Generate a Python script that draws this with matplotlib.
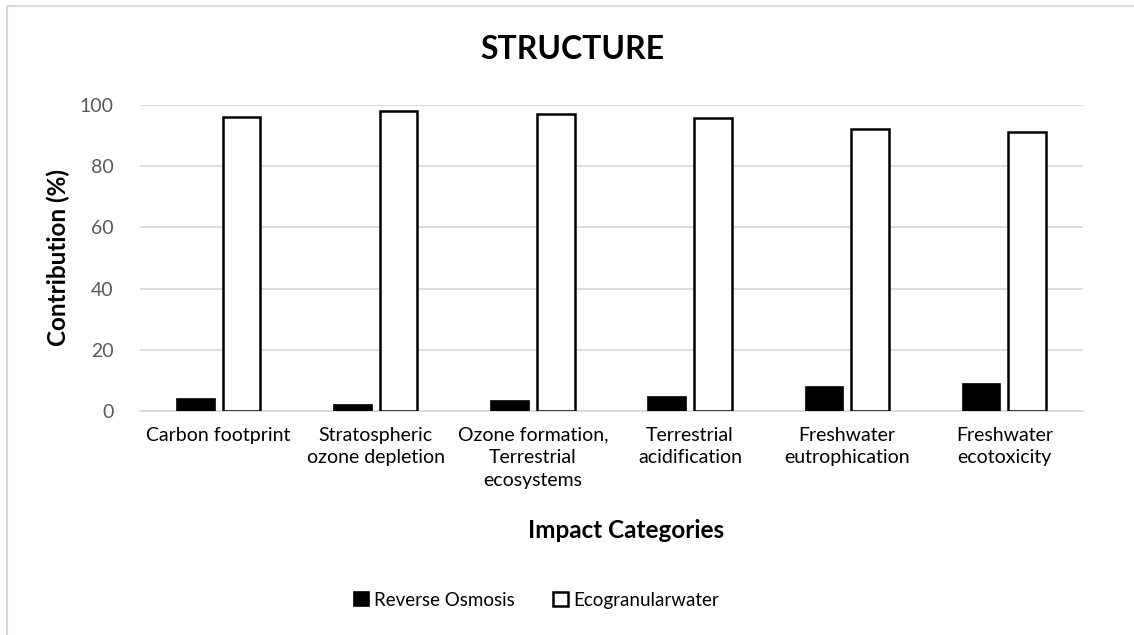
import numpy as np
import matplotlib.pyplot as plt
from matplotlib.patches import Rectangle

categories = ["Carbon footprint", "Stratospheric\nozone depletion",
              "Ozone formation,\nTerrestrial\necosystems", "Terrestrial\nacidification",
              "Freshwater\neutrophication", "Freshwater\necotoxicity"]
reverse_osmosis = [4.0, 2.2, 3.3, 4.6, 8.1, 8.9]
ecogranularwater = [96.1, 98.0, 97.0, 95.6, 92.1, 91.2]

plt.rcParams['font.family'] = ['Lato', 'DejaVu Sans']

fig = plt.figure(figsize=(11.34, 6.35), dpi=100)
ax = fig.add_axes([0.1235, 0.352, 0.8315, 0.483])

x = np.arange(len(categories))
w = 0.24
b1 = ax.bar(x - 0.145, reverse_osmosis, w, color='black', edgecolor='black', linewidth=1.2,
            label='Reverse Osmosis', zorder=3)
b2 = ax.bar(x + 0.145, ecogranularwater, w, color='white', edgecolor='black', linewidth=1.8,
            label='Ecogranularwater', zorder=3)

ax.set_xlim(-0.5, len(categories) - 0.5)
ax.set_ylim(0, 100)
ax.set_yticks(range(0, 101, 20))
ax.grid(axis='y', color='#d9d9d9', linewidth=1.3, zorder=0)
for s in ['top', 'right', 'left']:
    ax.spines[s].set_visible(False)
ax.spines['bottom'].set_color('#d9d9d9')
ax.spines['bottom'].set_linewidth(1.3)
ax.tick_params(axis='both', length=0, labelsize=14, colors='#595959')
ax.tick_params(axis='x', labelcolor='black', pad=11)
ax.tick_params(axis='y', pad=19)
ax.set_xticks(x)
ax.set_xticklabels(categories, linespacing=1.4)

fig.text(0.505, 0.922, 'STRUCTURE', ha='center', va='center', fontsize=23, fontweight='bold')
fig.text(0.552, 0.165, 'Impact Categories', ha='center', va='center', fontsize=17.5, fontweight='bold')
fig.text(0.051, 0.594, 'Contribution (%)', ha='center', va='center', rotation=90,
         fontsize=17.5, fontweight='bold')

fig.legend(handles=[b1, b2], loc='center', bbox_to_anchor=(0.473, 0.055), ncol=2,
           frameon=False, fontsize=13.5, handlelength=0.8, handleheight=0.8,
           handletextpad=0.3, columnspacing=2.0)

# light chart-area border
fig.patches.append(Rectangle((0.0066, -0.05), 1.0, 1.05 - 6 / 635, transform=fig.transFigure,
                             fill=False, edgecolor='#d9d9d9', linewidth=1.5))

fig.savefig('out.png', dpi=100)
